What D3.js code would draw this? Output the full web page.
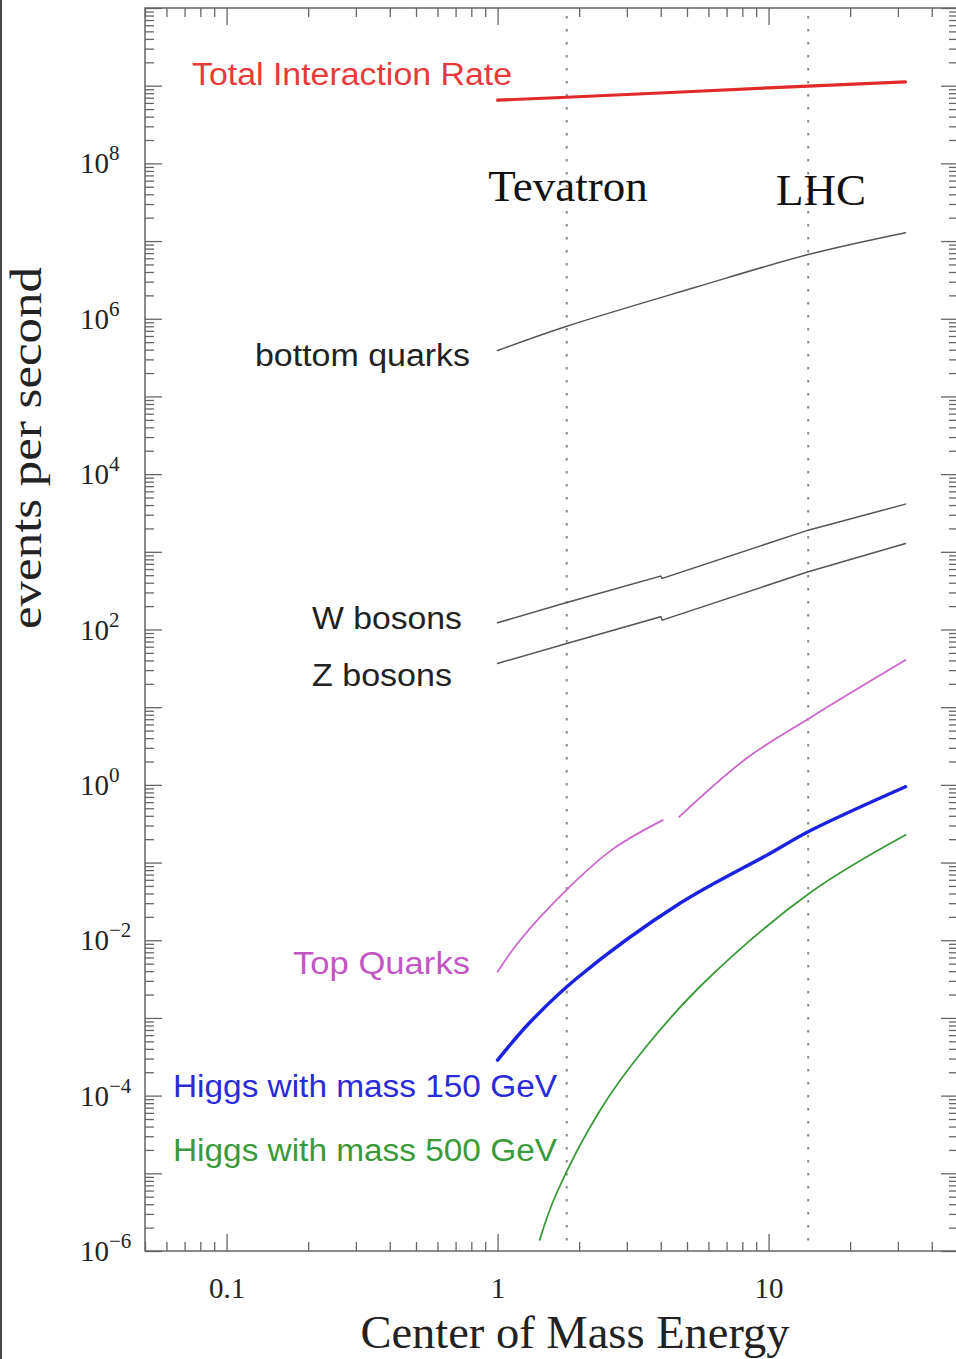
<!DOCTYPE html>
<html>
<head>
<meta charset="utf-8">
<script src="https://cdn.jsdelivr.net/npm/d3@7"></script>
<style>
body { margin: 0; background: #fff; }
</style>
</head>
<body>
<div id="chart"></div>
<script>
// values (energy in TeV, rate in events per second)
var energyTicks = [0.1, 1, 10];
var rateTickExps = [-6, -4, -2, 0, 2, 4, 6, 8];
var colliderNames = ["Tevatron", "LHC"];
var colliderEnergy = [1.8, 14];

var totalE = [1, 1.8, 5, 14, 32];
var totalRate = [6.5e8, 7.1e8, 8.35e8, 9.9e8, 1.12e9];

var bottomE = [1, 1.8, 5.3, 14, 32];
var bottomRate = [3.9e5, 8.0e5, 2.5e6, 6.7e6, 1.28e7];

var wE = [1, 1.8, 4, 4.05, 14, 32];
var wRate = [122, 223, 487, 455, 1900, 4110];

var zE = [1, 1.8, 4, 4.05, 14, 32];
var zRate = [36.6, 66, 146, 132, 553, 1282];

var topE1 = [1, 1.21, 1.82, 2.67, 4.07];
var topRate1 = [3.94e-3, 1.0e-2, 0.0466, 0.15, 0.352];
var topE2 = [4.68, 8.3, 14.4, 32];
var topRate2 = [0.388, 2.2, 7.5, 40.4];

var higgs150E = [1, 1.32, 1.96, 4.71, 10, 14.4, 32];
var higgs150Rate = [2.87e-4, 8.85e-4, 3.24e-3, 0.0299, 0.128, 0.262, 0.946];

var higgs500E = [1.43, 1.64, 2.39, 3.5, 5.91, 14.4, 32];
var higgs500Rate = [1.39e-6, 5.26e-6, 6.5e-5, 4.1e-4, 3.08e-3, 0.042, 0.226];

var width = 956,
    height = 1359,
    padL = 145, padR = 958, padT = 8, padB = 1251,
    axisColor = "#666",
    serif = "'Liberation Serif', 'Times New Roman', serif",
    sans = "'Liberation Sans', Arial, sans-serif";

var svg = d3.select("#chart")
    .append("svg")
    .attr("width", width)
    .attr("height", height);

var x = d3.scaleLog().domain([0.05, 50]).range([padL, padR]);
var y = d3.scaleLog().domain([1e-6, 1e10]).range([padB, padT]);

// screenshot edge on the left
svg.append("rect").attr("x", 0).attr("y", 0).attr("width", 2).attr("height", height).attr("fill", "#444");

// collider lines
svg.selectAll("line.collider").data(colliderEnergy).enter()
    .append("line")
    .attr("class", "collider")
    .attr("x1", function(d) { return x(d); })
    .attr("x2", function(d) { return x(d); })
    .attr("y1", padT + 8)
    .attr("y2", padB)
    .attr("stroke", "#8a8a8a")
    .attr("stroke-width", 2)
    .attr("stroke-dasharray", "2.5,10.5");

// ticks
var xMinor = x.ticks().filter(function(d) { return energyTicks.indexOf(d) < 0; });
var yMajor = d3.range(-6, 11).map(function(e) { return Math.pow(10, e); });
var yMinor = [];
d3.range(-6, 10).forEach(function(e) {
    for (var k = 2; k <= 9; k++) yMinor.push(k * Math.pow(10, e));
});

function styleAxis(g) {
    g.select(".domain").remove();
    g.selectAll(".tick line").attr("stroke", axisColor).attr("stroke-width", 1.3);
}

svg.append("g").attr("transform", "translate(0," + padB + ")")
    .call(d3.axisBottom(x).tickValues(xMinor).tickSize(-9).tickFormat("")).call(styleAxis);
svg.append("g").attr("transform", "translate(0," + padT + ")")
    .call(d3.axisTop(x).tickValues(xMinor).tickSize(-9).tickFormat("")).call(styleAxis);
svg.append("g").attr("transform", "translate(0," + padT + ")")
    .call(d3.axisTop(x).tickValues(energyTicks).tickSize(-17).tickFormat("")).call(styleAxis);

var xAxis = svg.append("g").attr("transform", "translate(0," + padB + ")")
    .call(d3.axisBottom(x).tickValues(energyTicks).tickSize(-17).tickPadding(26)
        .tickFormat(function(d) { return d; }))
    .call(styleAxis);
xAxis.selectAll("text")
    .attr("font-family", serif)
    .attr("font-size", 29)
    .attr("fill", "#222");

svg.append("g").attr("transform", "translate(" + padL + ",0)")
    .call(d3.axisLeft(y).tickValues(yMinor).tickSize(-9).tickFormat("")).call(styleAxis);
svg.append("g").attr("transform", "translate(" + padL + ",0)")
    .call(d3.axisLeft(y).tickValues(yMajor).tickSize(-17).tickFormat("")).call(styleAxis);
svg.append("g").attr("transform", "translate(" + padR + ",0)")
    .call(d3.axisRight(y).tickValues(yMinor).tickSize(-9).tickFormat("")).call(styleAxis);
svg.append("g").attr("transform", "translate(" + padR + ",0)")
    .call(d3.axisRight(y).tickValues(yMajor).tickSize(-17).tickFormat("")).call(styleAxis);

// frame
svg.append("rect")
    .attr("x", padL).attr("y", padT)
    .attr("width", padR - padL).attr("height", padB - padT)
    .attr("fill", "none")
    .attr("stroke", axisColor)
    .attr("stroke-width", 1.5);

// y tick labels 10^n
var yLab = svg.selectAll("text.ylab").data(rateTickExps).enter()
    .append("text")
    .attr("class", "ylab")
    .attr("x", 80)
    .attr("y", function(d) { return y(Math.pow(10, d)) + 10; })
    .attr("font-family", serif)
    .attr("font-size", 29)
    .attr("fill", "#222");
yLab.append("tspan").text("10");
yLab.append("tspan")
    .attr("dy", -13)
    .attr("font-size", 21)
    .text(function(d) { return d < 0 ? "\u2212" + Math.abs(d) : d; });

// axis titles
svg.append("text")
    .attr("x", 575).attr("y", 1348)
    .attr("text-anchor", "middle")
    .attr("font-family", serif)
    .attr("font-size", 46.5)
    .attr("fill", "#222")
    .text("Center of Mass Energy");

svg.append("text")
    .attr("transform", "translate(41,448) rotate(-90)")
    .attr("text-anchor", "middle")
    .attr("font-family", serif)
    .attr("font-size", 45)
    .attr("textLength", 362)
    .attr("lengthAdjust", "spacingAndGlyphs")
    .attr("fill", "#222")
    .text("events per second");

// curves
var straight = d3.line()
    .x(function(d) { return x(d[0]); })
    .y(function(d) { return y(d[1]); });

var smooth = d3.line()
    .x(function(d) { return x(d[0]); })
    .y(function(d) { return y(d[1]); })
    .curve(d3.curveCatmullRom.alpha(0.5));

function drawCurve(es, rates, color, w, gen) {
    svg.append("path")
        .datum(d3.zip(es, rates))
        .attr("d", gen)
        .attr("fill", "none")
        .attr("stroke", color)
        .attr("stroke-width", w)
        .attr("stroke-linecap", "round");
}

drawCurve(totalE, totalRate, "#e02a2a", 3.2, straight);
drawCurve(bottomE, bottomRate, "#555", 1.5, smooth);
drawCurve(wE, wRate, "#555", 1.5, straight);
drawCurve(zE, zRate, "#555", 1.5, straight);
drawCurve(topE1, topRate1, "#cc66cc", 1.8, smooth);
drawCurve(topE2, topRate2, "#cc66cc", 1.8, smooth);
drawCurve(higgs150E, higgs150Rate, "#1c22e0", 3.5, smooth);
drawCurve(higgs500E, higgs500Rate, "#3a9a3a", 1.8, smooth);

// collider names
svg.selectAll("text.collider").data(colliderNames).enter()
    .append("text")
    .attr("class", "collider")
    .attr("x", function(d, i) { return i == 0 ? 568 : 821; })
    .attr("y", function(d, i) { return i == 0 ? 201 : 205; })
    .attr("text-anchor", "middle")
    .attr("font-family", serif)
    .attr("font-size", 45)
    .attr("fill", "#111")
    .text(function(d) { return d; });

// curve labels
var labels = [
    {t: "Total Interaction Rate", x: 192, y: 85, w: 320, c: "#e83a3a"},
    {t: "bottom quarks", x: 255, y: 366, w: 215, c: "#222"},
    {t: "W bosons", x: 312, y: 629, w: 150, c: "#222"},
    {t: "Z bosons", x: 312, y: 686, w: 140, c: "#222"},
    {t: "Top Quarks", x: 293, y: 974, w: 177, c: "#c455c4"},
    {t: "Higgs with mass 150 GeV", x: 173, y: 1097, w: 384, c: "#2a2ad8"},
    {t: "Higgs with mass 500 GeV", x: 173, y: 1161, w: 384, c: "#3a9a3a"}
];

svg.selectAll("text.lab").data(labels).enter()
    .append("text")
    .attr("class", "lab")
    .attr("x", function(d) { return d.x; })
    .attr("y", function(d) { return d.y; })
    .attr("textLength", function(d) { return d.w; })
    .attr("lengthAdjust", "spacingAndGlyphs")
    .attr("font-family", sans)
    .attr("font-size", 31)
    .attr("fill", function(d) { return d.c; })
    .text(function(d) { return d.t; });
</script>
</body>
</html>
